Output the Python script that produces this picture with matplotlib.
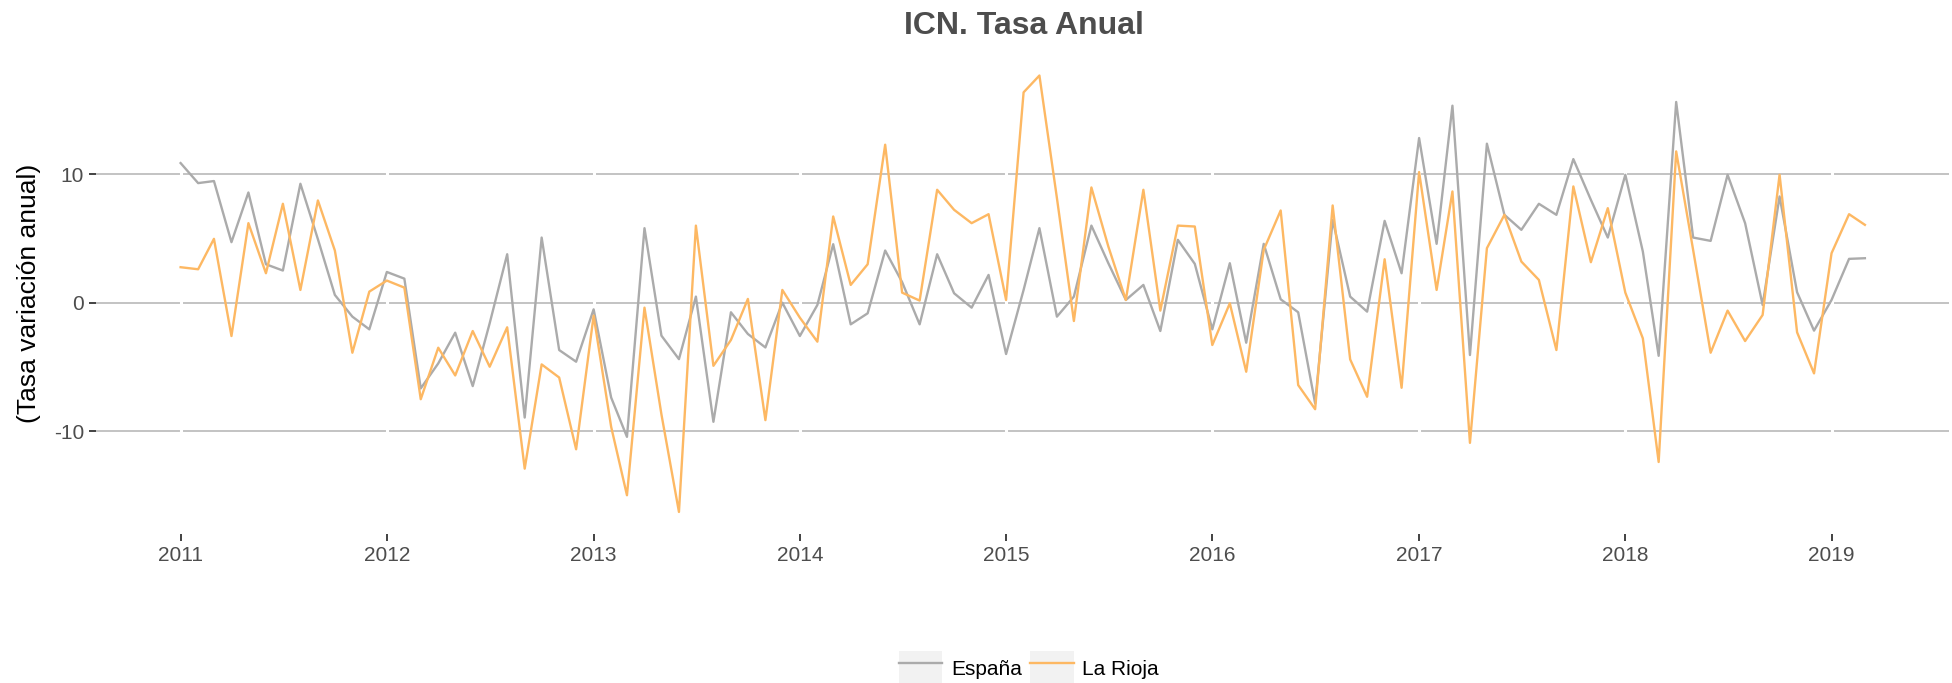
import numpy as np
import pandas as pd
import matplotlib
matplotlib.use('Agg')
import matplotlib.pyplot as plt
import matplotlib.dates as mdates
from matplotlib.legend_handler import HandlerLine2D
from matplotlib.patches import Rectangle

plt.rcParams['font.family'] = ['Liberation Sans', 'DejaVu Sans']
plt.rcParams['axes.unicode_minus'] = False

# Monthly annual rate, Jan 2011 - Mar 2019
fechas = pd.date_range('2011-01-01', periods=99, freq='MS')

espana = [
    10.87, 9.31, 9.47, 4.71, 8.58, 2.99, 2.50, 9.26, 4.94, 0.60, -1.09, -2.08,
    2.39, 1.87, -6.68, -4.73, -2.34, -6.50, -1.61, 3.77, -8.95, 5.07, -3.69, -4.60,
    -0.52, -7.39, -10.45, 5.80, -2.57, -4.40, 0.47, -9.28, -0.75, -2.44, -3.49, 0.00,
    -2.60, -0.18, 4.55, -1.69, -0.83, 4.06, 1.60, -1.69, 3.77, 0.73, -0.39, 2.16,
    -4.00, 0.99, 5.80, -1.09, 0.47, 6.00, 3.07, 0.21, 1.38, -2.21, 4.89, 3.02,
    -2.08, 3.07, -3.12, 4.58, 0.26, -0.75, -7.85, 6.45, 0.47, -0.70, 6.37, 2.29,
    12.82, 4.58, 15.34, -4.08, 12.38, 6.84, 5.67, 7.70, 6.84, 11.18, 8.01, 5.07,
    9.96, 3.98, -4.14, 15.63, 5.07, 4.81, 9.96, 6.19, -0.18, 8.27, 0.81, -2.18,
    0.21, 3.41, 3.46,
]

la_rioja = [
    2.76, 2.60, 4.97, -2.60, 6.19, 2.29, 7.70, 0.99, 7.96, 4.06, -3.90, 0.86,
    1.72, 1.17, -7.52, -3.51, -5.67, -2.21, -4.99, -1.92, -12.93, -4.81, -5.83, -11.42,
    -1.01, -9.67, -15.00, -0.39, -8.70, -16.30, 6.00, -4.92, -2.91, 0.29, -9.15, 0.99,
    -1.17, -3.04, 6.71, 1.38, 2.99, 12.30, 0.78, 0.16, 8.79, 7.23, 6.19, 6.89,
    0.21, 16.38, 17.69, 8.14, -1.43, 8.97, 4.37, 0.21, 8.79, -0.62, 6.00, 5.93,
    -3.30, -0.05, -5.38, 4.11, 7.18, -6.42, -8.30, 7.57, -4.42, -7.33, 3.38, -6.63,
    10.17, 0.99, 8.66, -10.92, 4.24, 6.84, 3.20, 1.77, -3.69, 9.05, 3.15, 7.36,
    0.78, -2.78, -12.41, 11.78, 4.11, -3.90, -0.62, -2.99, -0.96, 9.96, -2.31, -5.51,
    3.85, 6.89, 6.06,
]

years = pd.date_range('2011-01-01', '2019-01-01', freq='YS')

col_es = '#ababab'
col_lr = '#fdb863'
txt_col = '#4d4d4d'


class HandlerKeyBox(HandlerLine2D):
    # ggplot-like legend key: grey box behind the line
    def create_artists(self, legend, orig_handle, xdescent, ydescent,
                       width, height, fontsize, trans):
        box = Rectangle((-xdescent, -ydescent), width, height,
                        facecolor='#f2f2f2', edgecolor='none', transform=trans)
        arts = super().create_artists(legend, orig_handle, xdescent, ydescent,
                                      width, height, fontsize, trans)
        return [box] + list(arts)


fig = plt.figure(figsize=(19.52, 6.83), dpi=100)
ax = fig.add_axes([0.0494, 0.2185, 0.9491, 0.7029])

ax.set_axisbelow(True)
ax.yaxis.grid(True, color='#bebebe', lw=1.3)
for y in years:
    ax.axvline(y, color='white', lw=2.2, zorder=1)

ln_es, = ax.plot(fechas, espana, color=col_es, lw=1.7, label='España', zorder=2)
ln_lr, = ax.plot(fechas, la_rioja, color=col_lr, lw=1.7, label='La Rioja', zorder=3)

pad = pd.Timedelta(days=149)
ax.set_xlim(fechas[0] - pad, fechas[-1] + pad)
ax.set_ylim(-18.0, 19.39)
ax.set_yticks([-10, 0, 10])
ax.set_xticks(years)
ax.xaxis.set_major_formatter(mdates.DateFormatter('%Y'))

for s in ax.spines.values():
    s.set_visible(False)
ax.tick_params(axis='both', length=5, width=1.3, color='#333333',
               labelsize=15, labelcolor=txt_col, pad=4)

ax.set_ylabel('(Tasa variación anual)', fontsize=19, color='black', labelpad=9)
fig.text(0.5245, 0.962, 'ICN. Tasa Anual', ha='center', va='center',
         fontsize=23, fontweight='bold', color=txt_col)

fig.legend(handles=[ln_es, ln_lr], labels=['España', 'La Rioja'],
           handler_map={ln_es: HandlerKeyBox(), ln_lr: HandlerKeyBox()},
           loc='center', bbox_to_anchor=(0.527, 0.022), ncol=2, frameon=False,
           fontsize=15, handlelength=2.1, handleheight=2.1,
           handletextpad=0.4, columnspacing=0.4, borderpad=0, borderaxespad=0)

fig.savefig('out.png', dpi=100, facecolor='white')
